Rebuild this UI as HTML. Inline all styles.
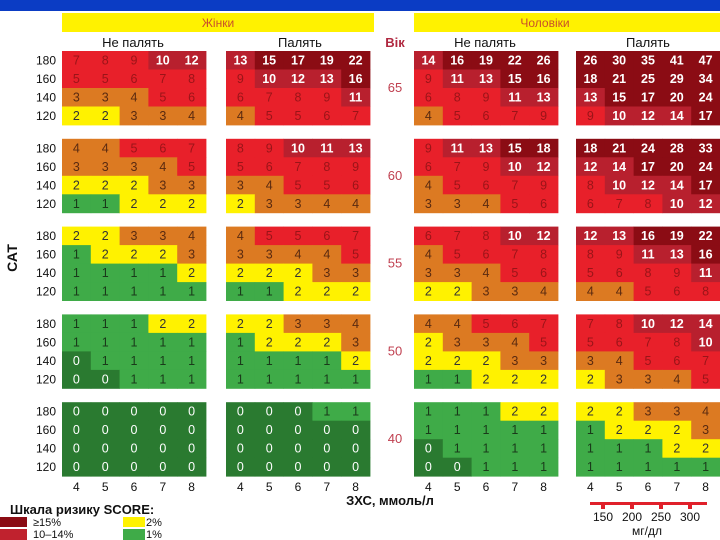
<!DOCTYPE html>
<html><head><meta charset="utf-8">
<style>
html,body{margin:0;padding:0;background:#fff;}
svg{display:block;font-family:"Liberation Sans","DejaVu Sans",sans-serif;}
</style></head>
<body>
<svg id="chart" width="720" height="540" viewBox="0 0 720 540">
  <rect x="0" y="0" width="720" height="11" fill="#0b3cc4"/>
  <rect x="62" y="13" width="312" height="19" fill="#fff200"/>
  <text x="218" y="27" font-size="12" fill="#c8502a" text-anchor="middle">Жінки</text>
  <rect x="414" y="13" width="306" height="19" fill="#fff200"/>
  <text x="545" y="27" font-size="12" fill="#c8502a" text-anchor="middle">Чоловіки</text>
  <text x="133" y="47" font-size="13" fill="#111" text-anchor="middle">Не палять</text>
  <text x="300" y="47" font-size="13" fill="#111" text-anchor="middle">Палять</text>
  <text x="395" y="47" font-size="13" fill="#b02840" font-weight="bold" text-anchor="middle">Вік</text>
  <text x="485" y="47" font-size="13" fill="#111" text-anchor="middle">Не палять</text>
  <text x="648" y="47" font-size="13" fill="#111" text-anchor="middle">Палять</text>
  <text x="0" y="0" font-size="14" font-weight="bold" fill="#111" text-anchor="middle" transform="translate(17,258) rotate(-90)">САТ</text>
  <text x="390" y="505" font-size="13" font-weight="bold" fill="#111" text-anchor="middle">ЗХС, ммоль/л</text>
  <g>
    <rect x="590" y="502" width="117" height="3" fill="#e0202a"/>
    <rect x="601" y="502" width="4" height="7" fill="#e0202a"/>
    <rect x="630" y="502" width="4" height="7" fill="#e0202a"/>
    <rect x="659" y="502" width="4" height="7" fill="#e0202a"/>
    <rect x="688" y="502" width="4" height="7" fill="#e0202a"/>
    <text x="603" y="521" font-size="12" fill="#111" text-anchor="middle">150</text>
    <text x="632" y="521" font-size="12" fill="#111" text-anchor="middle">200</text>
    <text x="661" y="521" font-size="12" fill="#111" text-anchor="middle">250</text>
    <text x="690" y="521" font-size="12" fill="#111" text-anchor="middle">300</text>
    <text x="647" y="535" font-size="12" fill="#111" text-anchor="middle">мг/дл</text>
  </g>
  <g>
    <text x="10" y="514" font-size="13" font-weight="bold" fill="#111">Шкала ризику SCORE:</text>
    <rect x="0" y="517" width="27" height="10" fill="#8b0c14"/>
    <text x="33" y="526" font-size="11" fill="#111">≥15%</text>
    <rect x="0" y="529" width="27" height="11" fill="#c0222e"/>
    <text x="33" y="538" font-size="11" fill="#111">10–14%</text>
    <rect x="123" y="517" width="22" height="10" fill="#fff200"/>
    <text x="146" y="526" font-size="11" fill="#111">2%</text>
    <rect x="123" y="529" width="22" height="11" fill="#3fab48"/>
    <text x="146" y="538" font-size="11" fill="#111">1%</text>
  </g>
</svg>
<script>
const ages = [65, 60, 55, 50, 40];
const sbpLevels = [180, 160, 140, 120];
const cholLevels = [4, 5, 6, 7, 8];
const womenNonSmoke = [
  [[7,8,9,10,12],[5,5,6,7,8],[3,3,4,5,6],[2,2,3,3,4]],
  [[4,4,5,6,7],[3,3,3,4,5],[2,2,2,3,3],[1,1,2,2,2]],
  [[2,2,3,3,4],[1,2,2,2,3],[1,1,1,1,2],[1,1,1,1,1]],
  [[1,1,1,2,2],[1,1,1,1,1],[0,1,1,1,1],[0,0,1,1,1]],
  [[0,0,0,0,0],[0,0,0,0,0],[0,0,0,0,0],[0,0,0,0,0]]
];
const womenSmoke = [
  [[13,15,17,19,22],[9,10,12,13,16],[6,7,8,9,11],[4,5,5,6,7]],
  [[8,9,10,11,13],[5,6,7,8,9],[3,4,5,5,6],[2,3,3,4,4]],
  [[4,5,5,6,7],[3,3,4,4,5],[2,2,2,3,3],[1,1,2,2,2]],
  [[2,2,3,3,4],[1,2,2,2,3],[1,1,1,1,2],[1,1,1,1,1]],
  [[0,0,0,1,1],[0,0,0,0,0],[0,0,0,0,0],[0,0,0,0,0]]
];
const menNonSmoke = [
  [[14,16,19,22,26],[9,11,13,15,16],[6,8,9,11,13],[4,5,6,7,9]],
  [[9,11,13,15,18],[6,7,9,10,12],[4,5,6,7,9],[3,3,4,5,6]],
  [[6,7,8,10,12],[4,5,6,7,8],[3,3,4,5,6],[2,2,3,3,4]],
  [[4,4,5,6,7],[2,3,3,4,5],[2,2,2,3,3],[1,1,2,2,2]],
  [[1,1,1,2,2],[1,1,1,1,1],[0,1,1,1,1],[0,0,1,1,1]]
];
const menSmoke = [
  [[26,30,35,41,47],[18,21,25,29,34],[13,15,17,20,24],[9,10,12,14,17]],
  [[18,21,24,28,33],[12,14,17,20,24],[8,10,12,14,17],[6,7,8,10,12]],
  [[12,13,16,19,22],[8,9,11,13,16],[5,6,8,9,11],[4,4,5,6,8]],
  [[7,8,10,12,14],[5,6,7,8,10],[3,4,5,6,7],[2,3,3,4,5]],
  [[2,2,3,3,4],[1,2,2,2,3],[1,1,1,2,2],[1,1,1,1,1]]
];

const NS = 'http://www.w3.org/2000/svg';
const svg = document.getElementById('chart');
const cellW = 28.8, rowH = 18.5, blockTop = 51, blockStep = 87.8;
const panelX = [62, 226, 414, 576];
const panels = [
  {data: womenNonSmoke, name: 'women-nonsmoker'},
  {data: womenSmoke, name: 'women-smoker'},
  {data: menNonSmoke, name: 'men-nonsmoker'},
  {data: menSmoke, name: 'men-smoker'}
];
function xPos(p, c){ return panelX[p] + c * cellW; }
function yPos(a, r){ return blockTop + a * blockStep + r * rowH; }
function fillFor(v){
  if (v >= 15) return '#8b0c14';
  if (v >= 10) return '#b8202e';
  if (v >= 5) return '#e8202a';
  if (v >= 3) return '#dc7a22';
  if (v === 2) return '#fff200';
  if (v === 1) return '#3fab48';
  return '#2a7a30';
}
function textFor(v){
  if (v >= 10) return '#ffffff';
  if (v >= 5) return '#9a1418';
  if (v >= 3) return '#5a2a10';
  if (v === 2) return '#333';
  if (v === 1) return '#1a3a1a';
  return '#ffffff';
}
function mk(tag, attrs){
  const el = document.createElementNS(NS, tag);
  for (const k in attrs) el.setAttribute(k, attrs[k]);
  return el;
}
panels.forEach((p, pi) => {
  ages.forEach((age, ai) => {
    sbpLevels.forEach((sbp, ri) => {
      cholLevels.forEach((ch, ci) => {
        const v = p.data[ai][ri][ci];
        const r = mk('rect', {x: xPos(pi, ci), y: yPos(ai, ri), width: cellW + 0.4, height: rowH + 0.4, fill: fillFor(v)});
        
        
        svg.appendChild(r);
        const t = mk('text', {x: xPos(pi, ci) + cellW / 2, y: yPos(ai, ri) + 13.5, 'font-size': 12.5, 'font-weight': v >= 10 ? 'bold' : 'normal', fill: textFor(v), 'text-anchor': 'middle'});
        t.textContent = v;
        
        
        svg.appendChild(t);
      });
    });
  });
});
ages.forEach((age, ai) => {
  sbpLevels.forEach((sbp, ri) => {
    const t = mk('text', {x: 56, y: yPos(ai, ri) + 13.5, 'font-size': 12, fill: '#111', 'text-anchor': 'end'});
    t.textContent = sbp;
    
    
    svg.appendChild(t);
  });
  const a = mk('text', {x: 395, y: yPos(ai, 2) + 4, 'font-size': 13, fill: '#c04050', 'text-anchor': 'middle'});
  a.textContent = age;
  
  
  svg.appendChild(a);
});
panels.forEach((p, pi) => {
  cholLevels.forEach((ch, ci) => {
    const t = mk('text', {x: xPos(pi, ci) + cellW / 2, y: 491, 'font-size': 12, fill: '#111', 'text-anchor': 'middle'});
    t.textContent = ch;
    
    
    svg.appendChild(t);
  });
});
</script>
</body></html>
